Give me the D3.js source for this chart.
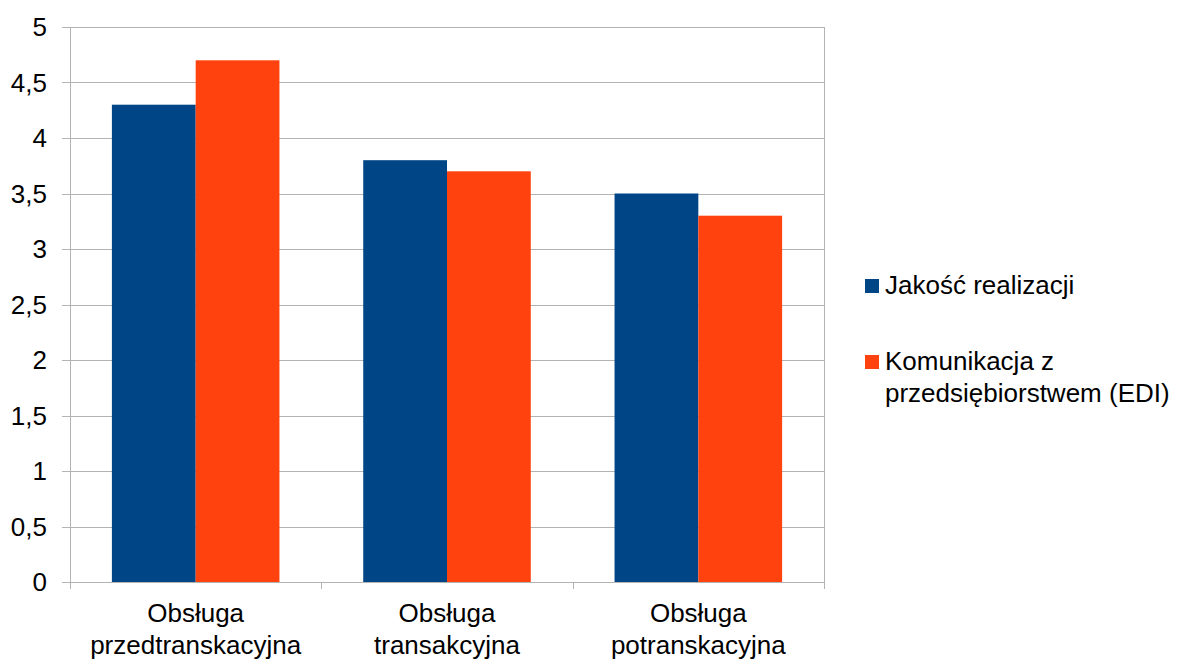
<!DOCTYPE html>
<html>
<head>
<meta charset="utf-8">
<script src="https://cdn.jsdelivr.net/npm/d3@7"></script>
<style>
  html, body { margin: 0; padding: 0; background: #fff; }
  svg { display: block; font-family: "Liberation Sans", Arial, sans-serif; }
</style>
</head>
<body>
<svg id="chart" width="1181" height="660"></svg>
<script>
// Categories (each label split into lines)
const categories = ["Obsługa przedtranskacyjna", "Obsługa transakcyjna", "Obsługa potranskacyjna"];
const categoryLines = [["Obsługa", "przedtranskacyjna"], ["Obsługa", "transakcyjna"], ["Obsługa", "potranskacyjna"]];
// Series
const seriesNames = ["Jakość realizacji", "Komunikacja z przedsiębiorstwem (EDI)"];
const seriesLegendLines = [["Jakość realizacji"], ["Komunikacja z", "przedsiębiorstwem (EDI)"]];
const jakoscValues = [4.3, 3.8, 3.5];
const komunikacjaValues = [4.7, 3.7, 3.3];
const seriesColors = ["#004586", "#ff420e"];
// Y axis ticks
const yTicks = [0, 0.5, 1, 1.5, 2, 2.5, 3, 3.5, 4, 4.5, 5];
const yTickLabels = ["0", "0,5", "1", "1,5", "2", "2,5", "3", "3,5", "4", "4,5", "5"];

const svg = d3.select("#chart");
const plot = { left: 70, right: 824, top: 27, bottom: 582 };
const gridColor = "#b3b3b3";
const fontSize = 26;

const x = d3.scaleBand().domain(categories).range([plot.left, plot.right]).paddingInner(0).paddingOuter(0);
const xInner = d3.scaleBand().domain(seriesNames).range([0, x.bandwidth()]).paddingOuter(0.5).paddingInner(0);
const y = d3.scaleLinear().domain([0, 5]).range([plot.bottom, plot.top]);

// Horizontal grid lines with tick marks to the left
svg.append("g").selectAll("line").data(yTicks).join("line")
  .attr("x1", plot.left - 8).attr("x2", plot.right)
  .attr("y1", d => Math.round(y(d)) + 0.5).attr("y2", d => Math.round(y(d)) + 0.5)
  .attr("stroke", gridColor).attr("stroke-width", 1);

// Right frame edge
svg.append("line")
  .attr("x1", plot.right + 0.5).attr("x2", plot.right + 0.5)
  .attr("y1", plot.top).attr("y2", plot.bottom)
  .attr("stroke", gridColor);

// Left axis line
svg.append("line")
  .attr("x1", plot.left + 0.5).attr("x2", plot.left + 0.5)
  .attr("y1", plot.top).attr("y2", plot.bottom + 7)
  .attr("stroke", gridColor);

// Category boundary ticks below the axis
const boundaries = categories.map(c => x(c)).concat([plot.right]);
svg.append("g").selectAll("line").data(boundaries.slice(1)).join("line")
  .attr("x1", d => Math.round(d) + 0.5).attr("x2", d => Math.round(d) + 0.5)
  .attr("y1", plot.bottom).attr("y2", plot.bottom + 7)
  .attr("stroke", gridColor);

// Y tick labels
svg.append("g").selectAll("text").data(yTicks).join("text")
  .attr("x", 47).attr("y", d => y(d))
  .attr("dy", "0.35em")
  .attr("text-anchor", "end")
  .attr("font-size", fontSize)
  .attr("fill", "#000")
  .text((d, i) => yTickLabels[i]);

// Bars
const seriesValues = [jakoscValues, komunikacjaValues];
seriesNames.forEach((s, si) => {
  svg.append("g").selectAll("rect").data(categories).join("rect")
    .attr("x", c => x(c) + xInner(s))
    .attr("y", (c, i) => y(seriesValues[si][i]))
    .attr("width", xInner.bandwidth())
    .attr("height", (c, i) => y(0) - y(seriesValues[si][i]))
    .attr("fill", seriesColors[si]);
});

// Category labels
categories.forEach((c, i) => {
  const cx = x(c) + x.bandwidth() / 2;
  const t = svg.append("text")
    .attr("x", cx)
    .attr("y", 622)
    .attr("text-anchor", "middle")
    .attr("font-size", fontSize)
    .attr("fill", "#000");
  categoryLines[i].forEach((line, li) => {
    t.append("tspan").attr("x", cx).attr("dy", li === 0 ? 0 : 32).text(line);
  });
});

// Legend
const legendY = [286, 362];
seriesNames.forEach((s, si) => {
  svg.append("rect")
    .attr("x", 865).attr("y", legendY[si] - 7)
    .attr("width", 14).attr("height", 14)
    .attr("fill", seriesColors[si]);
  const t = svg.append("text")
    .attr("x", 885).attr("y", legendY[si] + 8)
    .attr("font-size", fontSize)
    .attr("fill", "#000");
  seriesLegendLines[si].forEach((line, li) => {
    t.append("tspan").attr("x", 885).attr("dy", li === 0 ? 0 : 32).text(line);
  });
});
</script>
</body>
</html>
